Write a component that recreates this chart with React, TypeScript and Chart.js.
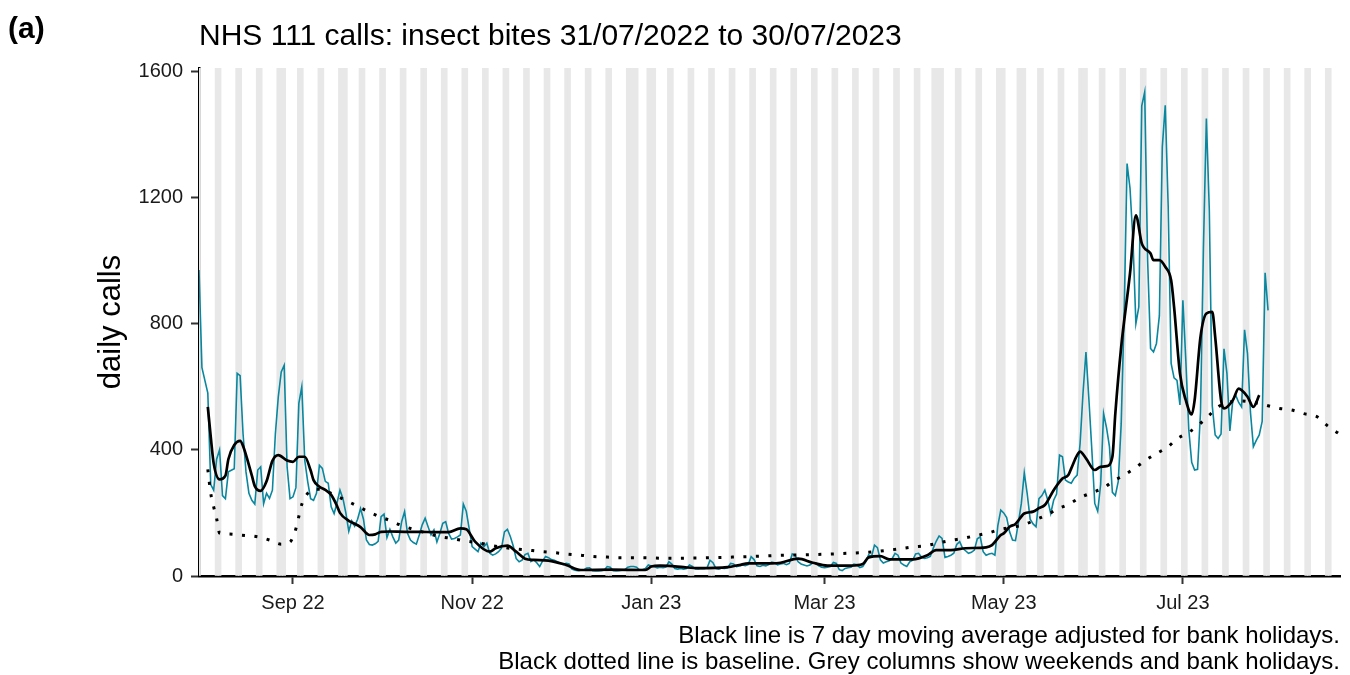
import React, { useEffect, useRef } from 'react';
import { Chart, registerables } from 'chart.js';

Chart.register(...registerables);

const FONT = "'Liberation Sans', Arial, Helvetica, sans-serif";

const chartTitle = 'NHS 111 calls: insect bites 31/07/2022 to 30/07/2023';
const panelLabel = '(a)';
const yAxisTitle = 'daily calls';
const captionLines = [
  'Black line is 7 day moving average adjusted for bank holidays.',
  'Black dotted line is baseline. Grey columns show weekends and bank holidays.',
];

// Day index 0 = Sunday 31/07/2022 (one value per day, to 30/07/2023)
const dailyCalls = [
  970, 660, 620, 580, 290, 272, 370,
  400, 255, 245, 330, 335, 340, 642,
  635, 450, 330, 262, 240, 228, 336,
  346, 229, 262, 246, 272, 450, 568,
  647, 668, 346, 245, 251, 280, 547,
  600, 367, 300, 245, 240, 262, 351,
  341, 300, 294, 219, 198, 232, 272,
  246, 200, 142, 175, 158, 180, 214,
  180, 114, 100, 98, 102, 110, 188,
  196, 122, 148, 124, 104, 114, 172,
  204, 135, 114, 106, 101, 130, 162,
  183, 156, 130, 146, 108, 135, 167,
  172, 135, 117, 119, 124, 130, 228,
  205, 150, 93, 85, 77, 104, 93,
  104, 72, 66, 70, 77, 88, 140,
  148, 125, 95, 55, 45, 50, 68,
  72, 46, 51, 42, 30, 48, 62,
  58, 52, 50, 45, 40, 36, 40,
  38, 22, 18, 17, 18, 19, 25,
  26, 17, 16, 16, 17, 19, 30,
  28, 17, 16, 17, 18, 20, 28,
  30, 30, 28, 19, 20, 24, 35,
  32, 30, 26, 28, 26, 28, 45,
  38, 24, 22, 24, 22, 24, 35,
  30, 22, 22, 24, 23, 26, 50,
  42, 24, 22, 25, 24, 26, 40,
  38, 30, 32, 35, 33, 36, 61,
  52, 32, 30, 34, 32, 36, 44,
  42, 35, 38, 40, 36, 40, 70,
  65, 45, 38, 35, 32, 35, 42,
  42, 32, 28, 26, 28, 30, 43,
  40, 20, 17, 24, 26, 28, 38,
  36, 27, 30, 45, 67, 62, 98,
  90, 51, 41, 45, 48, 55, 72,
  66, 41, 35, 30, 45, 50, 70,
  72, 60, 56, 58, 62, 88, 110,
  127, 119, 59, 62, 66, 72, 100,
  109, 88, 80, 72, 75, 82, 118,
  124, 77, 66, 70, 72, 66, 160,
  209, 200, 185, 140, 114, 112, 170,
  230, 327, 260, 180, 165, 156, 245,
  255, 272, 240, 198, 240, 260, 383,
  378, 304, 298, 294, 310, 320, 420,
  580, 710, 560, 400, 230, 205, 290,
  515, 470, 410, 265, 255, 300, 482,
  830, 1307, 1229, 1064, 800, 853, 1490,
  1534, 1000, 721, 710, 737, 825, 1360,
  1492, 1170, 674, 628, 620, 542, 874,
  684, 465, 360, 336, 338, 518, 1040,
  1450, 1159, 540, 447, 436, 450, 720,
  642, 460, 557, 573, 550, 536, 780,
  705, 520, 410, 430, 447, 490, 961,
  842,
];

// 7 day moving average (black line), read at these days
const maDays = [
  3, 4, 5, 7, 9, 10, 12, 14, 15, 18, 19, 21, 23, 25, 27, 30, 32, 34, 36, 38,
  39, 41, 43, 45, 47, 48, 51, 52, 55, 58, 60, 62, 65, 70, 75, 80, 85, 89, 91, 94,
  99, 101, 105, 108, 111, 114, 119, 125, 130, 140, 152, 154, 157, 160, 165, 170, 180, 184, 187, 195,
  198, 204, 209, 214, 222, 226, 228, 232, 235, 243, 248, 251, 256, 261, 268, 270, 273, 274, 276, 278,
  281, 284, 286, 288, 291, 294, 296, 297, 299, 300, 302, 305, 307, 309, 311, 312, 314, 317, 319, 321,
  324, 325, 327, 329, 331, 332, 334, 336, 338, 339, 341, 343, 345, 346, 348, 349, 352, 354, 357, 359,
  361,
];
const maValues = [
  536, 441, 357, 306, 318, 370, 415, 428, 412, 318, 285, 270, 300, 365, 383, 366, 362, 378, 378, 335,
  304, 283, 273, 257, 222, 200, 175, 170, 155, 130, 132, 140, 141, 140, 140, 139, 139, 151, 148, 109,
  77, 88, 96, 77, 55, 51, 49, 35, 19, 20, 19, 30, 33, 32, 28, 25, 28, 35, 40, 40,
  42, 55, 42, 33, 33, 38, 59, 63, 53, 53, 66, 82, 82, 88, 91, 98, 130, 135, 156, 165,
  198, 204, 215, 225, 272, 309, 320, 341, 383, 394, 373, 336, 346, 348, 378, 515, 726, 959, 1143, 1054,
  1022, 1001, 1001, 980, 937, 853, 642, 557, 512, 557, 758, 832, 837, 758, 557, 531, 557, 594, 568, 536,
  573,
];

// Baseline (black dotted line)
const baselineDays = [
  3, 4, 5, 6, 7, 10, 14, 20, 24, 28, 31, 33, 34, 35, 37, 39, 42, 45, 49, 53,
  57, 61, 65, 69, 73, 78, 82, 86, 90, 95, 99, 104, 108, 112, 117, 121, 125, 130, 134, 139,
  143, 151, 160, 168, 173, 182, 191, 199, 206, 213, 221, 230, 235, 239, 243, 248, 252, 256, 260, 265,
  269, 273, 277, 281, 285, 289, 292, 296, 300, 304, 308, 311, 315, 319, 322, 326, 330, 333, 337, 341,
  344, 347, 351, 355, 359, 363, 368, 372, 376, 381, 384, 388,
];
const baselineValues = [
  338, 262, 219, 182, 136, 133, 130, 124, 114, 101, 108, 150, 189, 227, 262, 275, 274, 262, 244, 226,
  207, 190, 176, 160, 148, 135, 125, 119, 112, 105, 98, 90, 86, 82, 77, 74, 70, 66, 62, 60,
  58, 58, 56, 57, 58, 60, 63, 66, 67, 69, 72, 77, 82, 87, 92, 97, 105, 113, 119, 129,
  137, 148, 155, 163, 179, 195, 211, 227, 248, 264, 279, 299, 320, 344, 365, 388, 410, 435, 455, 484,
  510, 536, 551, 555, 550, 542, 531, 526, 515, 503, 478, 452,
];

const bankHolidayDays = [29, 50, 148, 149, 155, 250, 253, 274, 281, 302];
const tickDays = [32, 93, 154, 213, 274, 335];
const tickLabels = ['Sep 22', 'Nov 22', 'Jan 23', 'Mar 23', 'May 23', 'Jul 23'];
const yTicks = [0, 400, 800, 1200, 1600];
const axisStartDay = 0;
const axisEndDay = 388.5;
const yMax = 1610;

const greyDays: number[] = [];
for (let d = 0; d <= Math.floor(axisEndDay); d++) {
  const dow = d % 7; // 0 = Sunday, 6 = Saturday
  if (dow === 0 || dow === 6 || bankHolidayDays.includes(d)) greyDays.push(d);
}

export default function App() {
  const ref = useRef<HTMLCanvasElement | null>(null);

  useEffect(() => {
    const canvas = ref.current;
    if (!canvas) return;
    const tickStyle = {
      display: true,
      drawOnChartArea: false,
      drawTicks: true,
      tickLength: 8,
      tickWidth: 2,
      tickColor: '#333',
      offset: false,
    };
    const chart = new Chart(canvas, {
      type: 'line',
      data: {
        datasets: [
          {
            type: 'bar',
            data: greyDays.map((d) => ({ x: d, y: yMax })),
            backgroundColor: '#e8e8e8',
            borderWidth: 0,
            barThickness: 3.05,
            order: 4,
          } as any,
          {
            data: dailyCalls.map((v, i) => ({ x: i, y: v })),
            borderColor: '#0a879e',
            borderWidth: 1.6,
            pointRadius: 0,
            tension: 0,
            order: 3,
          },
          {
            data: baselineDays.map((d, i) => ({ x: d, y: baselineValues[i] })),
            borderColor: '#000',
            borderWidth: 3,
            borderDash: [3, 9.5],
            borderCapStyle: 'butt',
            pointRadius: 0,
            cubicInterpolationMode: 'monotone',
            order: 2,
          },
          {
            data: maDays.map((d, i) => ({ x: d, y: maValues[i] })),
            borderColor: '#000',
            borderWidth: 2.7,
            pointRadius: 0,
            cubicInterpolationMode: 'monotone',
            order: 1,
          },
        ],
      },
      options: {
        animation: false,
        responsive: false,
        devicePixelRatio: 1,
        layout: { padding: { left: 0, right: 10, top: 0, bottom: 0 } },
        plugins: {
          legend: { display: false },
          tooltip: { enabled: false },
          title: {
            display: true,
            text: chartTitle,
            align: 'start',
            fullSize: false,
            color: '#000',
            font: { family: FONT, size: 30, weight: 'normal', lineHeight: 1.2 },
            padding: { top: 19, bottom: 13 },
          },
          subtitle: {
            display: true,
            position: 'bottom',
            align: 'end',
            text: captionLines,
            color: '#000',
            font: { family: FONT, size: 24, weight: 'normal', lineHeight: '26px' },
            padding: { top: 7, bottom: 0 },
          },
        },
        scales: {
          x: {
            type: 'linear',
            z: 1,
            min: axisStartDay,
            max: axisEndDay,
            offset: false,
            grid: tickStyle,
            border: { display: true, color: '#000', width: 2.5 },
            ticks: {
              autoSkip: false,
              maxRotation: 0,
              padding: 7,
              color: '#1a1a1a',
              font: { family: FONT, size: 20 },
              callback: (value: any) => {
                const idx = tickDays.indexOf(Number(value));
                return idx >= 0 ? tickLabels[idx] : '';
              },
            },
            afterBuildTicks: (scale: any) => {
              scale.ticks = tickDays.map((v) => ({ value: v }));
            },
            afterFit: (scale: any) => {
              scale.height = 40;
            },
          },
          y: {
            type: 'linear',
            z: 1,
            min: 0,
            max: yMax,
            grid: tickStyle,
            border: { display: true, color: '#000', width: 2.5 },
            ticks: {
              padding: 8,
              color: '#1a1a1a',
              font: { family: FONT, size: 20 },
              callback: (value: any) => String(value),
            },
            afterBuildTicks: (scale: any) => {
              scale.ticks = yTicks.map((v) => ({ value: v }));
            },
            afterFit: (scale: any) => {
              scale.width = 199;
            },
            title: {
              display: true,
              text: yAxisTitle,
              color: '#000',
              font: { family: FONT, size: 31, weight: 'normal', lineHeight: 1.2 },
              padding: { top: 93, bottom: 0 },
            },
          },
        },
      } as any,
    });
    return () => chart.destroy();
  }, []);

  return (
    <div
      style={{
        position: 'fixed',
        left: 0,
        top: 0,
        width: 1350,
        height: 675,
        background: '#fff',
        overflow: 'hidden',
      }}
    >
      <canvas ref={ref} width={1350} height={675} style={{ display: 'block', width: 1350, height: 675 }} />
      <div
        style={{
          position: 'absolute',
          left: 8,
          top: 13,
          fontFamily: FONT,
          fontWeight: 'bold',
          fontSize: 30,
          lineHeight: '30px',
          color: '#000',
        }}
      >
        {panelLabel}
      </div>
    </div>
  );
}
